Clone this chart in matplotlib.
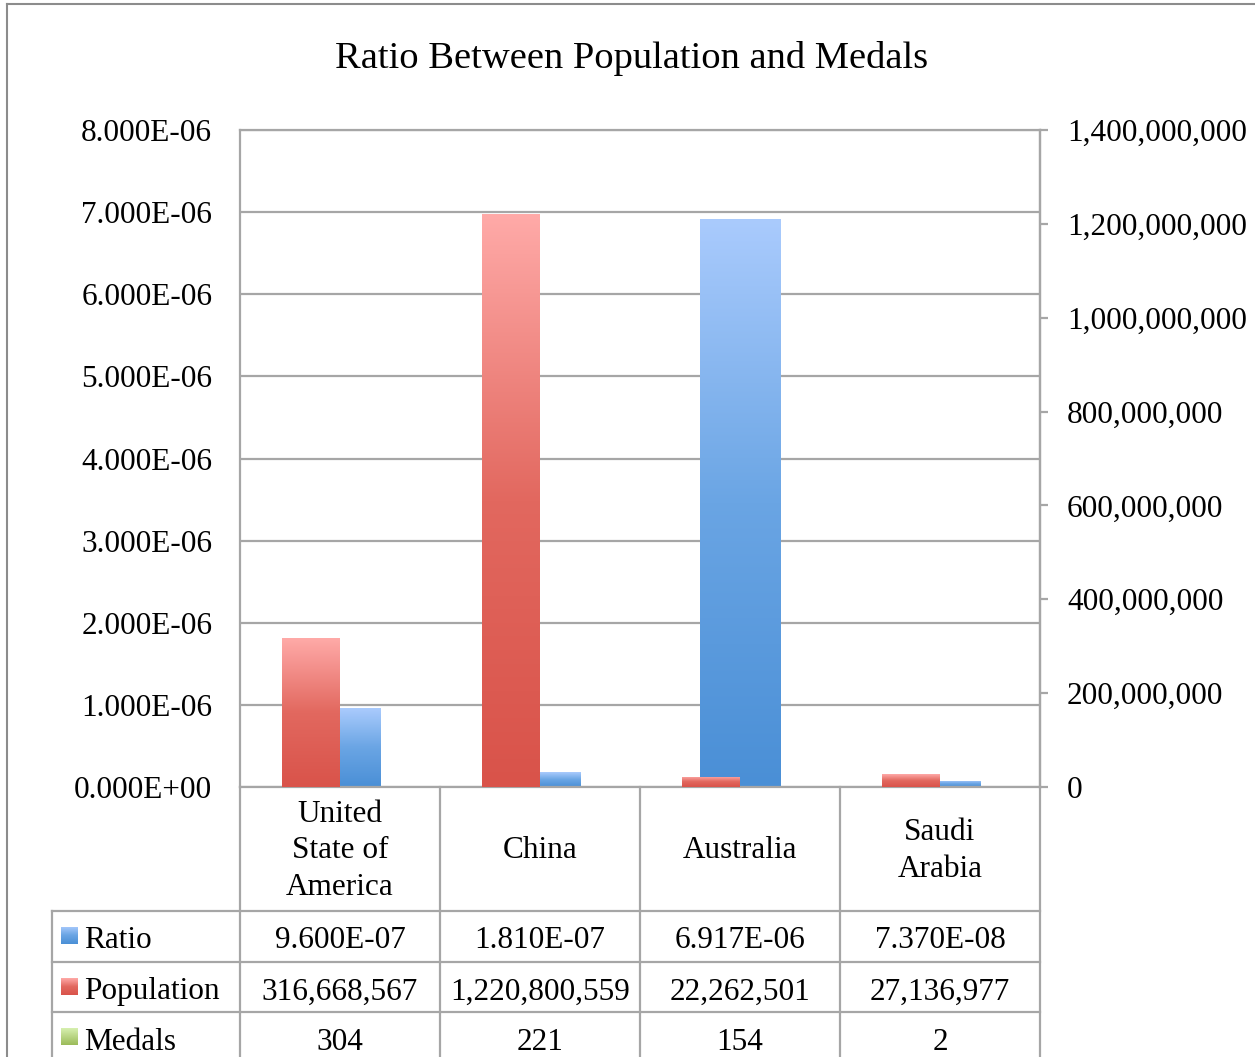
import matplotlib
matplotlib.use("Agg")
import matplotlib.pyplot as plt
import numpy as np
from matplotlib.colors import LinearSegmentedColormap
from matplotlib.lines import Line2D

categories = ["United\nState of\nAmerica", "China", "Australia", "Saudi\nArabia"]
ratio = [9.600e-07, 1.810e-07, 6.917e-06, 7.370e-08]
population = [316668567, 1220800559, 22262501, 27136977]
medals = [304, 221, 154, 2]
series_names = ["Ratio", "Population", "Medals"]
left_ticks = [0, 1e-6, 2e-6, 3e-6, 4e-6, 5e-6, 6e-6, 7e-6, 8e-6]
right_ticks = [0, 200000000, 400000000, 600000000, 800000000, 1000000000, 1200000000, 1400000000]

plt.rcParams['font.family'] = ['Liberation Serif', 'DejaVu Serif']

W, H = 1255, 1057
fig = plt.figure(figsize=(W / 100, H / 100), dpi=100)

def fx(x):
    return x / W

def fy(y):
    return 1 - y / H

GRAY = "#a6a6a6"
FS = 22.5

# outer chart border
fig.add_artist(Line2D([fx(7), fx(7)], [fy(4), fy(H + 10)], color="#8c8c8c", lw=1.5))
fig.add_artist(Line2D([fx(7), fx(W + 10)], [fy(4), fy(4)], color="#8c8c8c", lw=1.5))

# plot area
px0, px1, py0, py1 = 240, 1040, 130, 787
ax = fig.add_axes([fx(px0), fy(py1), fx(px1 - px0), (py1 - py0) / H])
ax2 = ax.twinx()

n = len(categories)
x = np.arange(n)

red_cmap = LinearSegmentedColormap.from_list("r", ["#d9534a", "#e2685f", "#ffaaa8"])
blue_cmap = LinearSegmentedColormap.from_list("b", ["#4a8fd6", "#6aa5e4", "#aacbfd"])
green_cmap = LinearSegmentedColormap.from_list("g", ["#9bbb59", "#d7f0b0"])

grad = np.linspace(0, 1, 256).reshape(-1, 1)

def gradient_bars(axis, xs, vals, width, cmap, z):
    bars = axis.bar(xs, vals, width=width, color="none", edgecolor="none", zorder=z)
    for b in bars:
        x0, y0 = b.get_x(), b.get_y()
        w, h = b.get_width(), b.get_height()
        if h <= 0:
            continue
        im = axis.imshow(grad, cmap=cmap, aspect="auto", origin="lower",
                         extent=[x0, x0 + w, y0, y0 + h], zorder=z, interpolation="bilinear")
        im.set_clip_path(b)
    return bars

# primary: ratio (wide, centered)
gradient_bars(ax, x, ratio, 0.405, blue_cmap, 2)
# secondary: population (left) and medals (right)
gradient_bars(ax2, x - 0.145, population, 0.29, red_cmap, 2)
gradient_bars(ax2, x + 0.145, medals, 0.29, green_cmap, 2)

ax.set_xlim(-0.5, n - 0.5)
ax.set_ylim(0, 8e-6)
ax2.set_ylim(0, 1.4e9)

ax.set_yticks(left_ticks)
ax.yaxis.grid(True, color=GRAY, lw=1.6)
ax.set_axisbelow(True)
ax.set_yticklabels(["{:.3E}".format(v) for v in left_ticks], fontsize=FS)
ax.tick_params(axis="y", length=0, pad=20)
ax.set_xticks([])

ax2.set_yticks(right_ticks)
ax2.set_yticklabels(["{:,.0f}".format(v) for v in right_ticks], fontsize=FS)
ax2.tick_params(axis="y", length=6, width=1.6, color=GRAY, pad=13.5, direction="out")
ax2.set_xticks([])

for a in (ax, ax2):
    for s in a.spines.values():
        s.set_color(GRAY)
        s.set_linewidth(1.6)
for s in ax2.spines.values():
    s.set_visible(False)
ax2.spines["right"].set_visible(True)

# title
fig.text(fx(632), fy(58), "Ratio Between Population and Medals", ha="center", va="center",
         fontsize=27.7)

# data table
col_edges = [240, 440, 640, 840, 1040]
row_edges = [787, 911, 962, 1012, H + 20]
tbl_left = 52

def hline(x0, x1, y):
    fig.add_artist(Line2D([fx(x0), fx(x1)], [fy(y), fy(y)], color=GRAY, lw=1.6))

def vline(x, y0, y1):
    fig.add_artist(Line2D([fx(x), fx(x)], [fy(y0), fy(y1)], color=GRAY, lw=1.6))

for cx in col_edges:
    vline(cx, 787, H + 20)
vline(tbl_left, 911, H + 20)
for ry in row_edges[1:4]:
    hline(tbl_left, 1040, ry)

for i, c in enumerate(categories):
    cx = (col_edges[i] + col_edges[i + 1]) / 2
    fig.text(fx(cx), fy(851), c, ha="center", va="center",
             fontsize=FS, linespacing=1.36)

rows = [
    ["{:.3E}".format(v) for v in ratio],
    ["{:,}".format(v) for v in population],
    [str(v) for v in medals],
]
key_cmaps = [blue_cmap, red_cmap, green_cmap]
for r, vals in enumerate(rows):
    ytxt = row_edges[r + 1] + 30
    for i, v in enumerate(vals):
        cx = (col_edges[i] + col_edges[i + 1]) / 2
        fig.text(fx(cx), fy(ytxt), v, ha="center", va="center", fontsize=FS)
    kx, ky, ks = 61, row_edges[r + 1] + 16, 17
    kax = fig.add_axes([fx(kx), fy(ky + ks), fx(ks), ks / H])
    kax.imshow(grad, cmap=key_cmaps[r], aspect="auto", origin="lower", extent=[0, 1, 0, 1])
    kax.set_axis_off()
    fig.text(fx(84), fy(ytxt), series_names[r], ha="left", va="center", fontsize=FS)

fig.savefig("out.png", dpi=100)
